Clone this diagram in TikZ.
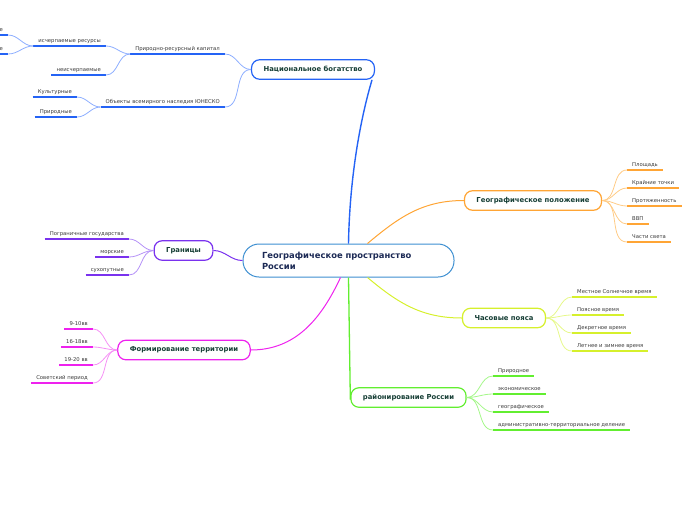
\documentclass[tikz,border=0pt]{standalone}
\usepackage{fontspec}
\setmainfont{DejaVu Sans}
\usepackage{xcolor}
\usepackage{tikz}

\definecolor{cenblue}{HTML}{3D8FD1}
\definecolor{centext}{HTML}{1C2A55}
\definecolor{maintext}{HTML}{173F36}
\definecolor{leaftext}{HTML}{3A3A3A}
\definecolor{natblue}{HTML}{2463F5}
\definecolor{natlight}{HTML}{8DAEFF}
\definecolor{geoorange}{HTML}{FFA535}
\definecolor{geolight}{HTML}{FFCB85}
\definecolor{timeyel}{HTML}{D6F02C}
\definecolor{timelight}{HTML}{E6F88A}
\definecolor{raigreen}{HTML}{62EE30}
\definecolor{railight}{HTML}{A4F789}
\definecolor{formmag}{HTML}{EE22EE}
\definecolor{formlight}{HTML}{F590F5}
\definecolor{borpurple}{HTML}{7A32EE}
\definecolor{borlight}{HTML}{B491F7}

\newcommand{\leaffont}{\fontsize{5.3}{6}\selectfont}
\newcommand{\mainfont}{\fontsize{6.85}{8}\selectfont\bfseries}

\begin{document}
\begin{tikzpicture}[x=1pt,y=-1pt,
	topic/.style={draw=cenblue, line width=1pt, fill=white, rounded corners=16pt,
		text width=173pt, inner xsep=19pt, minimum height=33pt, align=left,
		font=\fontsize{8.4}{11}\selectfont\bfseries, text=centext},
	mainbox/.style={draw=#1, line width=1.2pt, fill=white, rounded corners=8pt,
		inner xsep=12pt, minimum height=19.5pt, font=\mainfont, text=maintext},
	leaf/.style={font=\leaffont, text=leaftext, inner xsep=5pt, inner ysep=2pt,
		text height=5pt, text depth=1.5pt,
		append after command={(\tikzlastnode.south west) edge[draw=#1, line width=1.6pt] (\tikzlastnode.south east)}},
	twig/.style={draw=#1, line width=0.8pt}]

	\useasboundingbox (0,0) rectangle (696,520);

	% centre
	\node[topic] (cen) at (348.5,260.5) {Географическое пространство\\России};

	% main branches
	\node[mainbox=natblue] (nat) at (313,69.5) {Национальное богатство};
	\node[mainbox=geoorange] (geo) at (533,200.5) {Географическое положение};
	\node[mainbox=timeyel] (time) at (504,318) {Часовые пояса};
	\node[mainbox=raigreen] (rai) at (408.5,397.5) {районирование России};
	\node[mainbox=formmag] (form) at (184,350) {Формирование территории};
	\node[mainbox=borpurple] (bor) at (183.5,250.5) {Границы};

	\draw[natblue, line width=1.4pt] (cen.north) .. controls (350,160) and (366,100) .. ([xshift=-3pt]nat.south east);
	\draw[geoorange, line width=1pt] ([xshift=19pt]cen.north) to[out=40,in=180] (geo.west);
	\draw[timeyel, line width=1pt] ([xshift=19pt]cen.south) to[out=-40,in=180] (time.west);
	\draw[raigreen, line width=1.3pt] (cen.south) -- ([yshift=-2pt]rai.west);
	\draw[formmag, line width=1pt] ([xshift=-8pt]cen.south) to[out=-115,in=0] (form.east);
	\draw[borpurple, line width=1pt] (cen.west) to[out=180,in=0] (bor.east);

	% Национальное богатство
	\node[leaf=natblue, anchor=south east] (prk) at (225,54) {Природно-ресурсный капитал};
	\node[leaf=natblue, anchor=south east] (isch) at (106,46) {исчерпаемые ресурсы};
	\node[leaf=natblue, anchor=south east] (neisch) at (106,75) {неисчерпаемые};
	\node[leaf=natblue, anchor=south east] (vozob) at (8,35) {возобновимые};
	\node[leaf=natblue, anchor=south east] (nevozob) at (8,54) {невозобновимые};
	\node[leaf=natblue, anchor=south east] (unesco) at (225,107) {Объекты всемирного наследия ЮНЕСКО};
	\node[leaf=natblue, anchor=south east] (kult) at (77,97) {Культурные};
	\node[leaf=natblue, anchor=south east] (prir) at (77,117) {Природные};

	\draw[twig=natlight] (nat.west) to[out=180,in=0] (prk.south east);
	\draw[twig=natlight] (nat.west) to[out=180,in=0] (unesco.south east);
	\draw[twig=natlight] (prk.south west) to[out=180,in=0] (isch.south east);
	\draw[twig=natlight] (prk.south west) to[out=180,in=0] (neisch.south east);
	\draw[twig=natlight] (isch.south west) to[out=180,in=0] (vozob.south east);
	\draw[twig=natlight] (isch.south west) to[out=180,in=0] (nevozob.south east);
	\draw[twig=natlight] (unesco.south west) to[out=180,in=0] (kult.south east);
	\draw[twig=natlight] (unesco.south west) to[out=180,in=0] (prir.south east);

	% Географическое положение
	\node[leaf=geoorange, anchor=south west] (plosh) at (627,170) {Площадь};
	\node[leaf=geoorange, anchor=south west] (kraj) at (627,188) {Крайние точки};
	\node[leaf=geoorange, anchor=south west] (prot) at (627,206) {Протяженность};
	\node[leaf=geoorange, anchor=south west] (vvp) at (627,224) {ВВП};
	\node[leaf=geoorange, anchor=south west] (chast) at (627,242) {Части света};
	\foreach \leafname in {plosh,kraj,prot,vvp,chast}
		\draw[twig=geolight] (geo.east) to[out=0,in=180] (\leafname.south west);

	% Часовые пояса
	\node[leaf=timeyel, anchor=south west] (mest) at (572,297) {Местное Солнечное время};
	\node[leaf=timeyel, anchor=south west] (poyas) at (572,315) {Поясное время};
	\node[leaf=timeyel, anchor=south west] (dekr) at (572,333) {Декретное время};
	\node[leaf=timeyel, anchor=south west] (leto) at (572,351) {Летнее и зимнее время};
	\foreach \leafname in {mest,poyas,dekr,leto}
		\draw[twig=timelight] (time.east) to[out=0,in=180] (\leafname.south west);

	% районирование России
	\node[leaf=raigreen, anchor=south west] (prirod) at (493,376) {Природное};
	\node[leaf=raigreen, anchor=south west] (ekon) at (493,394) {экономическое};
	\node[leaf=raigreen, anchor=south west] (geogr) at (493,412) {географическое};
	\node[leaf=raigreen, anchor=south west] (adm) at (493,430) {административно-территориальное деление};
	\foreach \leafname in {prirod,ekon,geogr,adm}
		\draw[twig=railight] (rai.east) to[out=0,in=180] (\leafname.south west);

	% Границы
	\node[leaf=borpurple, anchor=south east] (pogr) at (129,239) {Пограничные государства};
	\node[leaf=borpurple, anchor=south east] (mor) at (129,257) {морские};
	\node[leaf=borpurple, anchor=south east] (suh) at (129,275) {сухопутные};
	\foreach \leafname in {pogr,mor,suh}
		\draw[twig=borlight] (bor.west) to[out=180,in=0] (\leafname.south east);

	% Формирование территории
	\node[leaf=formmag, anchor=south east] (v9) at (93,329) {9-10вв};
	\node[leaf=formmag, anchor=south east] (v16) at (93,347) {16-18вв};
	\node[leaf=formmag, anchor=south east] (v19) at (93,365) {19-20 вв};
	\node[leaf=formmag, anchor=south east] (sov) at (93,383) {Советский период};
	\foreach \leafname in {v9,v16,v19,sov}
		\draw[twig=formlight] (form.west) to[out=180,in=0] (\leafname.south east);
\end{tikzpicture}
\end{document}
